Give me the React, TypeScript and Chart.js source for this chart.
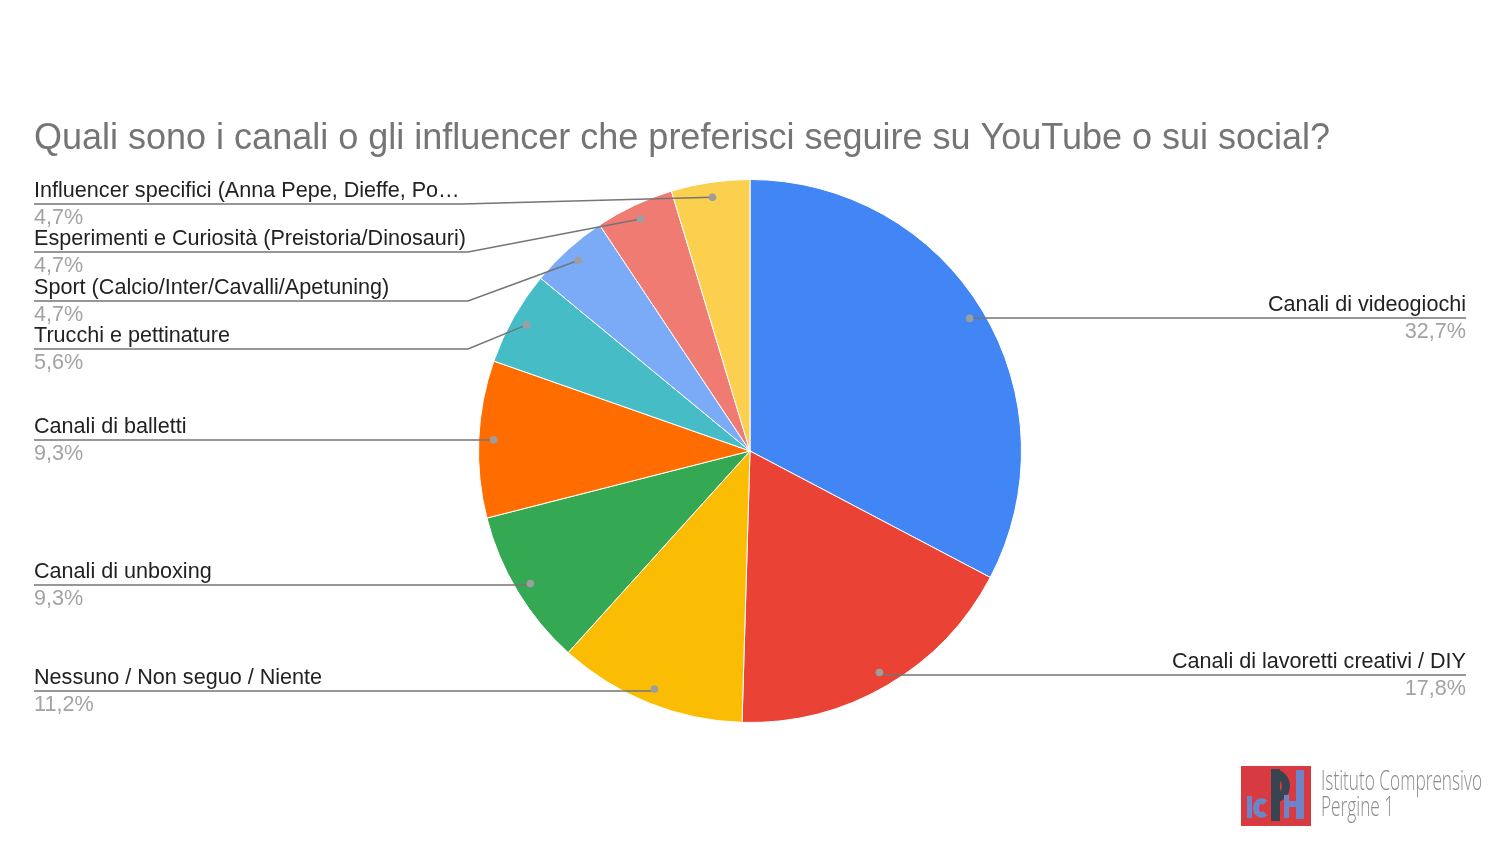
import React, { useEffect, useRef } from "react";
import { Chart, registerables } from "chart.js";

Chart.register(...registerables);

const TITLE = "Quali sono i canali o gli influencer che preferisci seguire su YouTube o sui social?";

const categories = [
  "Canali di videogiochi",
  "Canali di lavoretti creativi / DIY",
  "Nessuno / Non seguo / Niente",
  "Canali di unboxing",
  "Canali di balletti",
  "Trucchi e pettinature",
  "Sport (Calcio/Inter/Cavalli/Apetuning)",
  "Esperimenti e Curiosità (Preistoria/Dinosauri)",
  "Influencer specifici (Anna Pepe, Dieffe, Po…",
];

const counts = [35, 19, 12, 10, 10, 6, 5, 5, 5];

const sliceColors = [
  "#4285F4",
  "#EA4335",
  "#FBBC04",
  "#34A853",
  "#FF6D01",
  "#46BDC6",
  "#7BAAF7",
  "#F07B72",
  "#FCD04F",
];

const LOGO_LINES = ["Istituto Comprensivo", "Pergine 1"];

// label layout (side, y of the leader line, elbow x for left labels)
const labelLayout = [
  { side: "right", lineY: 318, elbowX: 0 },
  { side: "right", lineY: 675, elbowX: 0 },
  { side: "left", lineY: 691, elbowX: 0 },
  { side: "left", lineY: 585, elbowX: 0 },
  { side: "left", lineY: 440, elbowX: 0 },
  { side: "left", lineY: 349, elbowX: 468 },
  { side: "left", lineY: 301, elbowX: 468 },
  { side: "left", lineY: 252, elbowX: 468 },
  { side: "left", lineY: 204, elbowX: 462 },
];

const FONT = '"Liberation Sans", Arial, sans-serif';

const labelPlugin = {
  id: "pieLabels",
  afterDraw(chart: any) {
    const ctx = chart.ctx;
    const meta = chart.getDatasetMeta(0);
    const total = counts.reduce((a, b) => a + b, 0);
    ctx.save();
    // title
    ctx.font = `36px ${FONT}`;
    ctx.fillStyle = "#757575";
    ctx.textAlign = "left";
    ctx.textBaseline = "alphabetic";
    ctx.fillText(TITLE, 34, 149);

    const leftX = 34;
    const rightX = 1466;
    meta.data.forEach((arc: any, i: number) => {
      const p = arc.getProps(["x", "y", "startAngle", "endAngle", "outerRadius"], true);
      const mid = (p.startAngle + p.endAngle) / 2;
      const r = p.outerRadius * 0.945;
      const dx = p.x + Math.cos(mid) * r;
      const dy = p.y + Math.sin(mid) * r;
      const lay = labelLayout[i];
      const pct = ((counts[i] / total) * 100).toFixed(1).replace(".", ",") + "%";

      ctx.strokeStyle = "#757575";
      ctx.lineWidth = 1.5;
      ctx.beginPath();
      if (lay.side === "right") {
        ctx.moveTo(dx, dy);
        ctx.lineTo(dx + 6, lay.lineY);
        ctx.lineTo(rightX, lay.lineY);
      } else {
        ctx.moveTo(leftX, lay.lineY);
        if (lay.elbowX) {
          ctx.lineTo(lay.elbowX, lay.lineY);
          ctx.lineTo(dx, dy);
        } else {
          ctx.lineTo(dx, lay.lineY);
          ctx.lineTo(dx, dy);
        }
      }
      ctx.stroke();

      ctx.fillStyle = "#9e9e9e";
      ctx.beginPath();
      ctx.arc(dx, dy, 3.8, 0, Math.PI * 2);
      ctx.fill();

      ctx.font = `21.6px ${FONT}`;
      ctx.textAlign = lay.side === "right" ? "right" : "left";
      const tx = lay.side === "right" ? rightX : leftX;
      ctx.fillStyle = "#222222";
      ctx.fillText(categories[i], tx, lay.lineY - 7);
      ctx.fillStyle = "#a3a3a3";
      ctx.fillText(pct, tx, lay.lineY + 20);
    });

    // logo text (light condensed look)
    ctx.font = `300 28px "Open Sans", sans-serif`;
    ctx.textAlign = "left";
    ctx.fillStyle = "#8a8a8a";
    const w = ctx.measureText(LOGO_LINES[0]).width;
    const sx = 161 / w;
    ctx.save();
    ctx.translate(1321, 0);
    ctx.scale(sx, 1);
    ctx.fillText(LOGO_LINES[0], 0, 790);
    ctx.fillText(LOGO_LINES[1], 0, 816);
    ctx.restore();

    ctx.restore();
  },
};

function Logo() {
  const blue = "#6d85c8";
  const dark = "#384450";
  const abs = (s: any) => ({ position: "absolute", boxSizing: "border-box", ...s });
  return (
    <div style={{ position: "absolute", left: 1241, top: 766, width: 70, height: 60, background: "#d83a41", overflow: "hidden" }}>
      <div style={abs({ left: 6, top: 30, width: 5, height: 22, background: blue })} />
      <div
        style={abs({
          left: 12,
          top: 32,
          width: 17,
          height: 20,
          border: `6px solid ${blue}`,
          borderRightColor: "transparent",
          borderRadius: "50%",
        })}
      />
      <div style={abs({ left: 30, top: 3, width: 9, height: 52, background: dark })} />
      <div
        style={abs({
          left: 30,
          top: 3,
          width: 19,
          height: 34,
          border: `8px solid ${dark}`,
          borderLeft: "none",
          borderRadius: "0 17px 17px 0",
        })}
      />
      <div style={abs({ left: 43, top: 29, width: 5, height: 23, background: blue })} />
      <div style={abs({ left: 43, top: 35, width: 19, height: 6, background: blue })} />
      <div style={abs({ left: 55, top: 4, width: 8, height: 49, background: blue })} />
    </div>
  );
}

export default function App() {
  const canvasRef = useRef<HTMLCanvasElement | null>(null);

  useEffect(() => {
    if (!canvasRef.current) return;
    const chart = new Chart(canvasRef.current, {
      type: "pie",
      data: {
        labels: categories,
        datasets: [
          {
            data: counts,
            backgroundColor: sliceColors,
            borderColor: "#ffffff",
            borderWidth: 1,
            hoverOffset: 0,
            offset: 0,
          },
        ],
      },
      options: {
        responsive: false,
        animation: false,
        events: [],
        layout: { padding: { left: 478, right: 478, top: 179, bottom: 121 } },
        plugins: {
          legend: { display: false },
          tooltip: { enabled: false },
          title: { display: false },
        },
      },
      plugins: [labelPlugin],
    });
    return () => chart.destroy();
  }, []);

  return (
    <div style={{ position: "absolute", left: 0, top: 0, width: 1500, height: 844, background: "#ffffff" }}>
      <canvas ref={canvasRef} width={1500} height={844} style={{ display: "block" }} />
      <Logo />
    </div>
  );
}
